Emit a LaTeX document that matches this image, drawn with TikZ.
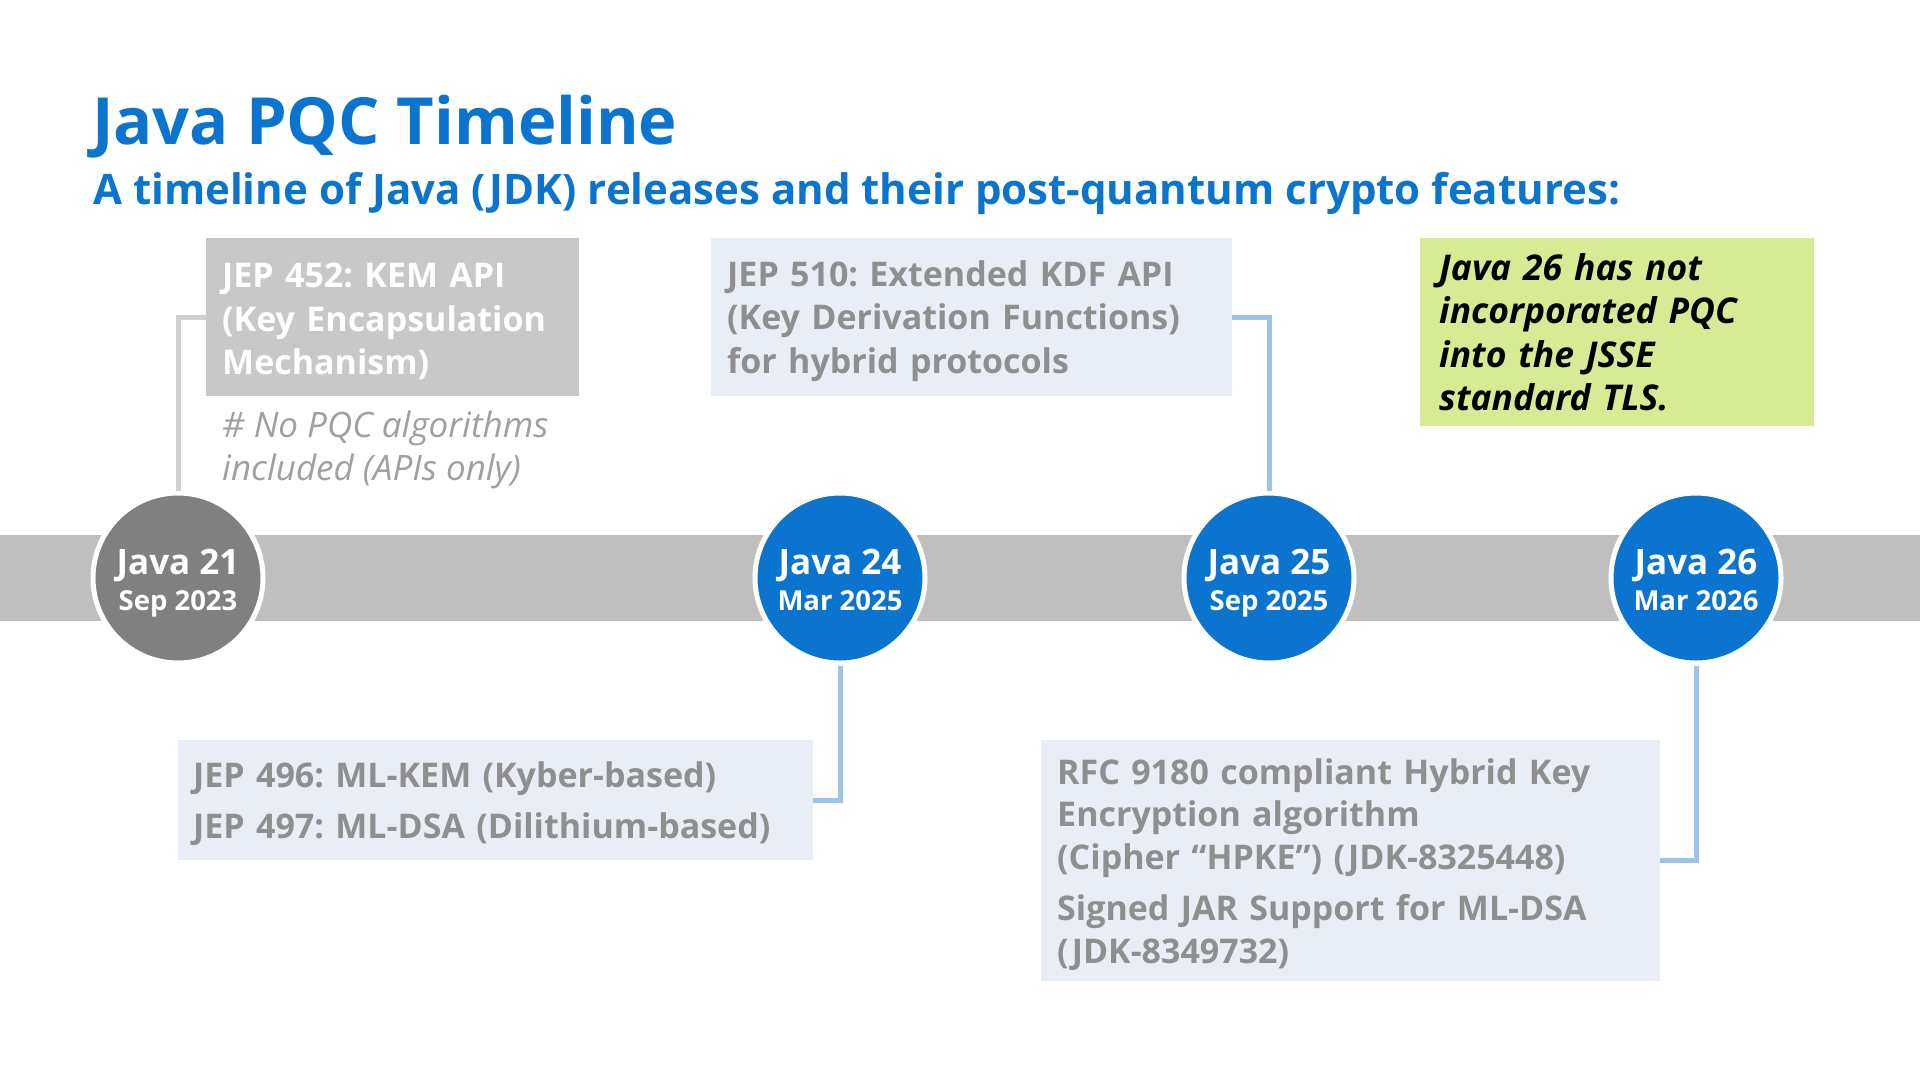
\documentclass[tikz,border=0pt]{standalone}
\usepackage{fontspec}
\setmainfont{Open Sans}
\frenchspacing
\definecolor{tblue}{HTML}{0A74CF}
\definecolor{band}{HTML}{BFBFBF}
\definecolor{oldgray}{HTML}{808080}
\definecolor{box452}{HTML}{C8C8C8}
\definecolor{lightbox}{HTML}{E9EEF6}
\definecolor{boxtext}{HTML}{8F8F8F}
\definecolor{notegreen}{HTML}{D6EB94}
\definecolor{connblue}{HTML}{9DC3E6}
\definecolor{conngray}{HTML}{D0D0D0}
\definecolor{notegray}{HTML}{A0A0A0}
\newcommand{\reldate}[1]{{\fontsize{27.5}{30}\selectfont #1\vphantom{p}}}
\newcommand{\relname}[1]{\rule{0pt}{36pt}#1}
\begin{document}
\begin{tikzpicture}[x=1pt,y=-1pt,
  release/.style={circle, draw=white, line width=5pt, minimum size=170pt, inner sep=0pt,
    text=white, align=center, font=\bfseries\fontsize{35}{36}\selectfont},
  infobox/.style={rectangle, anchor=north west, inner ysep=0pt, align=left,
    font=\bfseries\fontsize{34}{43.5}\selectfont},
  pushdown/.style={execute at begin node={\rule{0pt}{33pt}}},
  conn/.style={line width=5pt},
]
\useasboundingbox (0,0) rectangle (1920,1080);
\fill[white] (0,0) rectangle (1920,1080);

% title
\node[anchor=base west, inner sep=0pt, text=tblue, font=\bfseries\fontsize{65}{75}\selectfont] (title) at (92,144) {Java PQC Timeline};
\node[anchor=base west, inner sep=0pt, text=tblue, font=\bfseries\fontsize{42}{50}\selectfont] (subtitle) at (93,204) {A timeline of Java (JDK) releases and their post-quantum crypto features:};

% band
\fill[band] (0,535) rectangle (1920,621);

% boxes
\node[infobox, pushdown, fill=box452, text=white, minimum width=373pt, minimum height=158pt, text width=341pt, inner xsep=16pt] (b452) at (206,238)
  {JEP 452: KEM API\\(Key Encapsulation\\Mechanism)};
\node[anchor=north west, inner sep=0pt, align=left, text=notegray, font=\itshape\fontsize{35}{43}\selectfont] (n452) at (222,411)
  {\# No PQC algorithms\\included (APIs only)};
\node[infobox, pushdown, fill=lightbox, text=boxtext, minimum width=521pt, minimum height=158pt, text width=489pt, inner xsep=16pt] (b510) at (711,238)
  {JEP 510: Extended KDF API\\(Key Derivation Functions)\\for hybrid protocols};
\node[infobox, fill=notegreen, text=black, font=\bfseries\itshape\fontsize{35.5}{43.3}\selectfont, minimum width=394pt, minimum height=188pt, text width=356pt, inner xsep=19pt] (note) at (1420,238)
  {Java 26 has not\\incorporated PQC\\into the JSSE\\standard TLS.};
\node[infobox, pushdown, fill=lightbox, text=boxtext, minimum width=635pt, minimum height=120pt, text width=605pt, inner xsep=15pt] (b496) at (178,740)
  {JEP 496: ML-KEM (Kyber-based)\\[8pt]JEP 497: ML-DSA (Dilithium-based)};
\node[infobox, pushdown, fill=lightbox, text=boxtext, font=\bfseries\fontsize{34}{42.5}\selectfont, minimum width=619pt, minimum height=241pt, text width=587pt, inner xsep=16pt] (brfc) at (1041,740)
  {RFC 9180 compliant Hybrid Key\\Encryption algorithm\\(Cipher “HPKE”) (JDK-8325448)\\[9pt]Signed JAR Support for ML-DSA\\(JDK-8349732)};

% release circles
\node[release, fill=oldgray] (j21) at (178,578) {\relname{Java 21}\\\reldate{Sep 2023}};
\node[release, fill=tblue] (j24) at (840,578) {\relname{Java 24}\\\reldate{Mar 2025}};
\node[release, fill=tblue] (j25) at (1269,578) {\relname{Java 25}\\\reldate{Sep 2025}};
\node[release, fill=tblue] (j26) at (1696,578) {\relname{Java 26}\\\reldate{Mar 2026}};

% connectors
\draw[conn, conngray] (j21.north) |- (b452.west);
\draw[conn, connblue] (b510.east) -| (j25.north);
\draw[conn, connblue] (j24.south) |- (b496.east);
\draw[conn, connblue] (j26.south) |- (brfc.east);
\end{tikzpicture}
\end{document}
